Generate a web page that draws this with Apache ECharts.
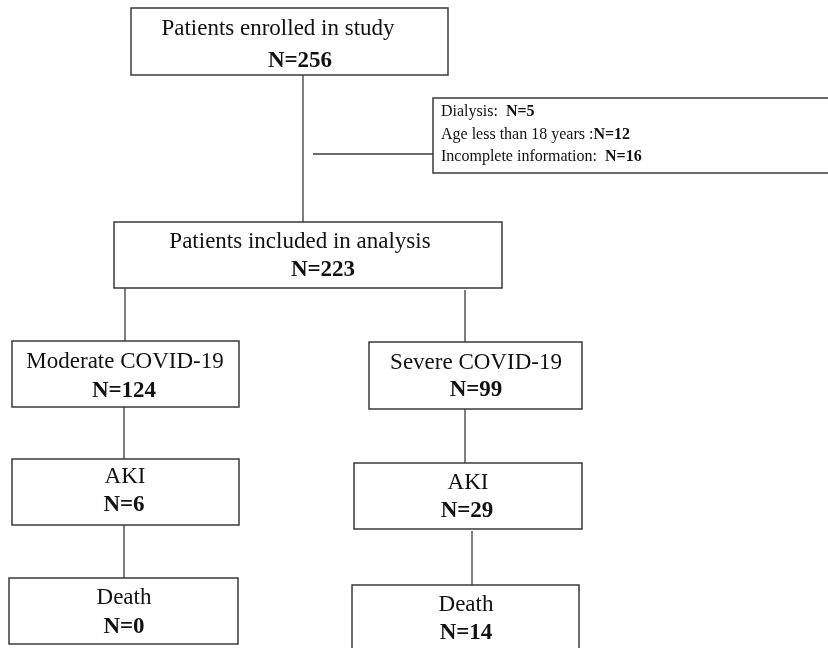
<!DOCTYPE html>
<html>
<head>
<meta charset="utf-8">
<script src="https://cdn.jsdelivr.net/npm/echarts@6/dist/echarts.min.js"></script>
<style>
  html, body { margin: 0; padding: 0; background: #ffffff; }
  #chart { width: 828px; height: 648px; }
</style>
</head>
<body>
<div id="chart"></div>
<script>
// ---- data ----
const stageLabels = ['Patients enrolled in study', 'Patients included in analysis', 'Moderate COVID-19', 'Severe COVID-19', 'AKI', 'AKI', 'Death', 'Death'];
const stageCounts = [256, 223, 124, 99, 6, 29, 0, 14];
const exclusionLabels = ['Dialysis:  ', 'Age less than 18 years :', 'Incomplete information:  '];
const exclusionCounts = [5, 12, 16];

// ---- layout (page coordinates, mapped through hidden value axes) ----
// [x0, y0, x1, y1, labelX, labelY, countX, countY]
const stageLayout = [
  [131, 8, 448, 75, 278, 29, 300, 61],
  [114, 222, 502, 288, 300, 242, 323, 270],
  [12, 341, 239, 407, 125, 362, 124, 391],
  [369, 342, 582, 409, 476, 363, 476, 390],
  [12, 459, 239, 525, 125, 477, 124, 505],
  [354, 463, 582, 529, 468, 483, 467, 511],
  [9, 578, 238, 644, 124, 598, 124, 627],
  [352, 585, 579, 655, 466, 605, 466, 633]
];
// exclusion box: [x0, y0, x1, y1, textX, firstLineY, lineStep]
const exclusionLayout = [433, 98, 840, 173, 441, 112, 22.5];
const connectorLayout = [
  [303, 75, 303, 222],
  [313, 154, 433, 154],
  [125, 288, 125, 341],
  [465, 290, 465, 342],
  [124, 407, 124, 459],
  [465, 409, 465, 463],
  [124, 525, 124, 578],
  [472, 531, 472, 585]
];

const FONT = '"Liberation Serif", "Times New Roman", serif';
const STROKE = '#3a3a3a';

const chart = echarts.init(document.getElementById('chart'), null, { renderer: 'canvas' });

const option = {
  backgroundColor: '#ffffff',
  animation: false,
  grid: { left: 0, right: 0, top: 0, bottom: 0 },
  xAxis: { type: 'value', min: 0, max: 828, show: false },
  yAxis: { type: 'value', min: 0, max: 648, inverse: true, show: false },
  series: [
    {
      type: 'custom',
      name: 'connectors',
      clip: false,
      data: connectorLayout,
      renderItem: function (params, api) {
        const p0 = api.coord([api.value(0), api.value(1)]);
        const p1 = api.coord([api.value(2), api.value(3)]);
        return {
          type: 'line',
          shape: { x1: p0[0], y1: p0[1], x2: p1[0], y2: p1[1] },
          style: { stroke: STROKE, lineWidth: 1.3 }
        };
      }
    },
    {
      type: 'custom',
      name: 'stages',
      clip: false,
      data: stageLayout,
      renderItem: function (params, api) {
        const i = params.dataIndex;
        const p0 = api.coord([api.value(0), api.value(1)]);
        const p1 = api.coord([api.value(2), api.value(3)]);
        const t1 = api.coord([api.value(4), api.value(5)]);
        const t2 = api.coord([api.value(6), api.value(7)]);
        return {
          type: 'group',
          children: [
            {
              type: 'rect',
              shape: { x: p0[0], y: p0[1], width: p1[0] - p0[0], height: p1[1] - p0[1] },
              style: { fill: '#ffffff', stroke: STROKE, lineWidth: 1.5 }
            },
            {
              type: 'text',
              style: {
                text: stageLabels[i], x: t1[0], y: t1[1],
                align: 'center', verticalAlign: 'middle',
                font: '23px ' + FONT, fill: '#111111'
              }
            },
            {
              type: 'text',
              style: {
                text: 'N=' + stageCounts[i], x: t2[0], y: t2[1],
                align: 'center', verticalAlign: 'middle',
                font: 'bold 23px ' + FONT, fill: '#111111'
              }
            }
          ]
        };
      }
    },
    {
      type: 'custom',
      name: 'exclusions',
      clip: false,
      data: [exclusionLayout],
      renderItem: function (params, api) {
        const p0 = api.coord([api.value(0), api.value(1)]);
        const p1 = api.coord([api.value(2), api.value(3)]);
        const tx = api.value(4), ty = api.value(5), step = api.value(6);
        const children = [{
          type: 'rect',
          shape: { x: p0[0], y: p0[1], width: p1[0] - p0[0], height: p1[1] - p0[1] },
          style: { fill: '#ffffff', stroke: STROKE, lineWidth: 1.5 }
        }];
        exclusionLabels.forEach(function (lab, k) {
          const pt = api.coord([tx, ty + k * step]);
          children.push({
            type: 'text',
            style: {
              text: lab + '{b|N=' + exclusionCounts[k] + '}',
              x: pt[0], y: pt[1],
              align: 'left', verticalAlign: 'middle',
              font: '16px ' + FONT, fill: '#111111',
              rich: { b: { fontWeight: 'bold', fontSize: 16, fontFamily: FONT, fill: '#111111' } }
            }
          });
        });
        return { type: 'group', children: children };
      }
    }
  ]
};

chart.setOption(option);
</script>
</body>
</html>
